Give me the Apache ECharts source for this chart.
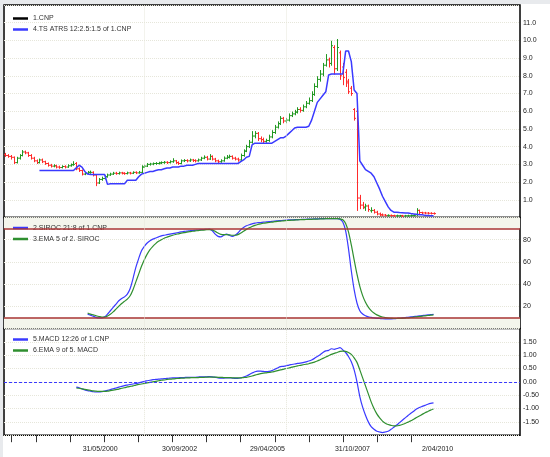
<!DOCTYPE html>
<html>
<head>
<meta charset="utf-8">
<script src="https://cdn.jsdelivr.net/npm/echarts@6/dist/echarts.min.js"></script>
<style>
html, body { margin: 0; padding: 0; background: #fff; }
#chart { width: 550px; height: 457px; }
</style>
</head>
<body>
<div id="chart"></div>
<script>
// monthly bars of 1.CNP, Sep 1997 .. Apr 2010 (index 0 .. 151)
var barOpen = [
    3.55, 3.50, 3.45, 3.40, 3.10, 3.35, 3.50, 3.70, 3.65, 3.50,
    3.35, 3.20, 3.10, 3.25, 3.15, 3.05, 2.95, 2.90, 2.92, 2.85,
    2.82, 2.88, 2.85, 2.92, 2.98, 3.05, 2.75, 2.65, 2.45, 2.50,
    2.55, 2.55, 2.40, 1.95, 2.15, 2.20, 2.30, 2.40, 2.45, 2.50,
    2.48, 2.52, 2.50, 2.48, 2.52, 2.50, 2.55, 2.52, 2.55, 2.85,
    2.90, 3.00, 3.02, 3.05, 3.05, 3.08, 3.10, 3.12, 3.10, 3.15,
    3.20, 3.10, 3.05, 3.20, 3.22, 3.20, 3.25, 3.22, 3.20, 3.25,
    3.35, 3.40, 3.30, 3.45, 3.30, 3.20, 3.15, 3.20, 3.35, 3.40,
    3.45, 3.35, 3.30, 3.25, 3.50, 3.75, 4.00, 4.25, 4.60, 4.75,
    4.45, 4.40, 4.30, 4.35, 4.55, 4.80, 5.10, 5.30, 5.60, 5.45,
    5.50, 5.75, 5.85, 5.95, 6.10, 6.05, 6.25, 6.45, 6.60, 6.95,
    7.40, 7.80, 8.10, 8.60, 8.90, 8.70, 9.60, 8.40, 9.30, 8.50,
    8.20, 7.70, 7.30, 6.10, 6.00, 1.10, 0.70, 0.55, 0.65, 0.38,
    0.40, 0.30, 0.20, 0.15, 0.14, 0.12, 0.12, 0.11, 0.10, 0.10,
    0.10, 0.09, 0.10, 0.10, 0.11, 0.15, 0.40, 0.28, 0.26, 0.25,
    0.24, 0.23
];
var barHigh = [
    3.62, 3.55, 3.50, 3.42, 3.40, 3.55, 3.78, 3.75, 3.68, 3.55,
    3.40, 3.25, 3.30, 3.30, 3.18, 3.08, 3.00, 2.98, 2.95, 2.90,
    2.92, 2.92, 2.98, 3.02, 3.15, 3.10, 2.80, 2.68, 2.55, 2.60,
    2.62, 2.58, 2.42, 2.20, 2.28, 2.35, 2.45, 2.50, 2.55, 2.55,
    2.56, 2.55, 2.53, 2.56, 2.55, 2.58, 2.58, 2.60, 2.92, 2.95,
    3.05, 3.06, 3.08, 3.10, 3.12, 3.14, 3.16, 3.15, 3.20, 3.32,
    3.22, 3.14, 3.25, 3.27, 3.26, 3.30, 3.28, 3.26, 3.30, 3.40,
    3.48, 3.45, 3.55, 3.48, 3.34, 3.24, 3.26, 3.42, 3.50, 3.52,
    3.48, 3.40, 3.35, 3.58, 3.82, 4.08, 4.35, 4.85, 4.85, 4.80,
    4.55, 4.48, 4.42, 4.65, 4.90, 5.20, 5.40, 5.70, 5.65, 5.60,
    5.85, 5.95, 6.05, 6.20, 6.20, 6.35, 6.55, 6.75, 7.10, 7.55,
    7.95, 8.30, 8.70, 9.20, 9.00, 9.95, 9.70, 10.05, 9.40, 8.70,
    8.35, 7.80, 7.40, 6.15, 6.05, 1.25, 0.85, 0.75, 0.70, 0.55,
    0.45, 0.35, 0.25, 0.20, 0.17, 0.15, 0.14, 0.13, 0.13, 0.12,
    0.12, 0.12, 0.13, 0.14, 0.15, 0.50, 0.42, 0.30, 0.29, 0.28,
    0.27, 0.26
];
var barLow = [
    3.45, 3.40, 3.30, 3.05, 3.08, 3.30, 3.48, 3.60, 3.45, 3.30,
    3.15, 3.05, 3.08, 3.10, 3.00, 2.90, 2.85, 2.86, 2.80, 2.78,
    2.80, 2.80, 2.83, 2.90, 2.95, 2.70, 2.60, 2.40, 2.42, 2.47,
    2.50, 2.35, 1.80, 1.92, 2.10, 2.18, 2.28, 2.38, 2.43, 2.44,
    2.45, 2.46, 2.44, 2.46, 2.46, 2.48, 2.48, 2.50, 2.53, 2.82,
    2.88, 2.96, 2.98, 3.00, 3.02, 3.04, 3.06, 3.05, 3.08, 3.12,
    3.05, 3.00, 3.03, 3.16, 3.14, 3.17, 3.16, 3.14, 3.18, 3.22,
    3.32, 3.25, 3.28, 3.25, 3.15, 3.10, 3.12, 3.18, 3.32, 3.36,
    3.30, 3.25, 3.18, 3.22, 3.46, 3.72, 3.95, 4.20, 4.50, 4.35,
    4.28, 4.22, 4.25, 4.30, 4.50, 4.75, 5.05, 5.25, 5.35, 5.35,
    5.45, 5.70, 5.80, 5.90, 5.95, 6.00, 6.20, 6.40, 6.55, 6.90,
    7.35, 7.70, 8.00, 8.55, 8.50, 8.60, 8.10, 8.30, 7.80, 7.50,
    7.40, 7.00, 6.90, 5.50, 0.40, 0.50, 0.50, 0.40, 0.35, 0.30,
    0.25, 0.15, 0.10, 0.10, 0.09, 0.08, 0.08, 0.07, 0.07, 0.07,
    0.06, 0.07, 0.07, 0.08, 0.09, 0.12, 0.22, 0.22, 0.21, 0.20,
    0.20, 0.19
];
var barClose = [
    3.50, 3.45, 3.40, 3.10, 3.35, 3.50, 3.70, 3.65, 3.50, 3.35,
    3.20, 3.10, 3.25, 3.15, 3.05, 2.95, 2.90, 2.92, 2.85, 2.82,
    2.88, 2.85, 2.92, 2.98, 3.00, 2.75, 2.65, 2.45, 2.50, 2.55,
    2.55, 2.40, 1.95, 2.15, 2.20, 2.30, 2.40, 2.45, 2.50, 2.48,
    2.52, 2.50, 2.48, 2.52, 2.50, 2.55, 2.52, 2.55, 2.85, 2.90,
    3.00, 3.02, 3.05, 3.05, 3.08, 3.10, 3.12, 3.10, 3.15, 3.20,
    3.10, 3.05, 3.20, 3.22, 3.20, 3.25, 3.22, 3.20, 3.25, 3.35,
    3.40, 3.30, 3.45, 3.30, 3.20, 3.15, 3.20, 3.35, 3.40, 3.45,
    3.35, 3.30, 3.25, 3.50, 3.75, 4.00, 4.25, 4.60, 4.75, 4.45,
    4.40, 4.30, 4.35, 4.55, 4.80, 5.10, 5.30, 5.60, 5.45, 5.50,
    5.75, 5.85, 5.95, 6.10, 6.05, 6.25, 6.45, 6.60, 6.95, 7.40,
    7.80, 8.10, 8.60, 8.90, 8.70, 9.70, 8.40, 9.60, 8.00, 7.90,
    7.60, 7.10, 7.00, 5.60, 1.10, 0.70, 0.60, 0.65, 0.45, 0.40,
    0.30, 0.20, 0.15, 0.14, 0.12, 0.12, 0.11, 0.10, 0.10, 0.10,
    0.09, 0.10, 0.10, 0.11, 0.12, 0.40, 0.28, 0.26, 0.25, 0.24,
    0.23, 0.22
];

// 4.TS ATRS 12:2.5:1.5, from bar 12
var atrsStart = 12;
var atrsValues = [
    2.65, 2.65, 2.65, 2.65, 2.65, 2.65, 2.65, 2.65, 2.65, 2.65, 2.65, 2.65, 2.65,
    2.80, 2.95, 2.85, 2.60, 2.45,
    2.43, 2.43, 2.43, 2.43, 2.43, 2.43,
    1.87, 1.90, 1.90, 1.90, 1.90, 1.90, 1.90,
    2.10, 2.10, 2.10, 2.10,
    2.30, 2.45, 2.50, 2.55, 2.60, 2.60,
    2.65, 2.70, 2.70, 2.75, 2.80, 2.80,
    2.85, 2.85, 2.85, 2.90, 2.90, 2.95, 2.95, 2.95, 3.00,
    3.05, 3.05, 3.05, 3.05, 3.05, 3.05, 3.05, 3.05, 3.05, 3.05, 3.05, 3.05, 3.05, 3.05, 3.05,
    3.15, 3.25, 3.40, 3.45, 4.10,
    4.20, 4.20, 4.20, 4.20, 4.20, 4.20, 4.20,
    4.30, 4.40, 4.50, 4.50, 4.60, 4.75, 4.90, 5.05,
    5.10, 5.10, 5.10, 5.10,
    5.15, 5.50, 6.00, 6.50, 6.70, 6.90, 7.10, 8.05,
    8.10, 8.10, 8.10, 8.10, 8.10,
    9.40, 9.40, 8.80, 7.20, 7.00,
    3.20, 2.95, 2.70, 2.60, 2.50, 2.30, 1.95, 1.60, 1.20, 0.90, 0.60, 0.40,
    0.30, 0.30, 0.28, 0.27, 0.25, 0.25, 0.22,
    0.20, 0.18, 0.15, 0.15, 0.12, 0.12, 0.10, 0.10
];

// 2.SIROC 21:8 and 3.EMA 5 of it, from bar 29
var sirocStart = 29;
var sirocValues = [
    13, 12, 11, 10, 9.5, 9.5, 10.5, 13, 16, 19,
    22, 25, 27, 28.5, 31, 36, 45, 55, 63, 70,
    74, 77, 79, 80.5, 81.5, 82.5, 83.5, 84, 84.5, 85,
    85.5, 86, 86.5, 87, 87.5, 87.7, 88, 88.3, 88.5, 88.7,
    89, 89.2, 89.3, 89.5, 88, 85, 83, 82.5, 84, 85,
    84, 83, 84, 86, 89, 91, 92.5, 93.5, 94.3, 95,
    95.3, 95.5, 95.8, 96, 96.2, 96.5, 96.8, 97, 97.2, 97.4,
    97.6, 97.8, 97.9, 98, 98.1, 98.2, 98.3, 98.4, 98.5, 98.6,
    98.7, 98.8, 98.9, 99, 99, 99, 99, 99, 99, 98.5,
    96, 88, 72, 52, 35, 23, 16, 13, 11.5, 10.5,
    10, 9.5, 9.2, 9, 8.8, 8.7, 8.7, 8.7, 8.8, 9,
    9.2, 9.5, 9.8, 10.1, 10.4, 10.7, 11, 11.3, 11.6, 11.9,
    12.2, 12.5, 12.8
];
var sirocEmaValues = [
    14, 13, 12.3, 11.5, 10.8, 10.3, 10.3, 11.2, 12.8, 15,
    17.5, 20, 22.5, 24.5, 26.5, 29.5, 35, 42, 49, 56,
    62, 67, 71, 74, 76.5, 78.5, 80, 81.3, 82.3, 83.2,
    84, 84.7, 85.3, 85.9, 86.4, 86.8, 87.2, 87.6, 87.9, 88.2,
    88.5, 88.7, 89, 89.1, 88.8, 87.5, 86, 84.8, 84.5, 84.6,
    84.4, 84, 84, 84.6, 86, 87.7, 89.3, 90.7, 91.9, 92.9,
    93.7, 94.3, 94.8, 95.2, 95.5, 95.9, 96.2, 96.5, 96.7, 97,
    97.2, 97.4, 97.6, 97.7, 97.9, 98, 98.1, 98.2, 98.3, 98.4,
    98.5, 98.6, 98.7, 98.8, 98.9, 98.9, 99, 99, 99, 98.8,
    97.9, 94.6, 87, 75.3, 61.9, 48.9, 38, 29.6, 23.6, 19.2,
    16.1, 13.9, 12.3, 11.2, 10.4, 9.8, 9.4, 9.2, 9, 9,
    9.1, 9.2, 9.4, 9.6, 9.9, 10.2, 10.5, 10.8, 11.1, 11.4,
    11.7, 12, 12.3
];

// 5.MACD 12:26 and 6.EMA 9 of it, from bar 25
var macdStart = 25;
var macdValues = [
    -0.20, -0.22, -0.26, -0.30, -0.33, -0.35, -0.37, -0.38, -0.38, -0.37,
    -0.35, -0.32, -0.29, -0.26, -0.23, -0.20, -0.17, -0.14, -0.12, -0.10,
    -0.08, -0.06, -0.04, -0.01, 0.02, 0.04, 0.06, 0.08, 0.09, 0.10,
    0.11, 0.12, 0.13, 0.14, 0.15, 0.15, 0.15, 0.16, 0.16, 0.17,
    0.17, 0.17, 0.17, 0.18, 0.19, 0.19, 0.19, 0.20, 0.19, 0.17,
    0.15, 0.14, 0.14, 0.15, 0.15, 0.14, 0.13, 0.13, 0.15, 0.18,
    0.22, 0.27, 0.33, 0.38, 0.40, 0.40, 0.39, 0.38, 0.39, 0.42,
    0.47, 0.52, 0.57, 0.58, 0.60, 0.63, 0.65, 0.67, 0.69, 0.70,
    0.72, 0.75, 0.78, 0.82, 0.88, 0.95, 1.02, 1.10, 1.16, 1.18,
    1.24, 1.22, 1.25, 1.28, 1.20, 1.10, 0.95, 0.75, 0.45, 0.00,
    -0.55, -0.95, -1.25, -1.50, -1.68, -1.78, -1.85, -1.88, -1.90, -1.88,
    -1.85, -1.78, -1.70, -1.62, -1.53, -1.44, -1.35, -1.26, -1.18, -1.10,
    -1.02, -0.96, -0.92, -0.88, -0.84, -0.81, -0.79
];
var macdSignalValues = [
    -0.23, -0.24, -0.26, -0.28, -0.30, -0.32, -0.34, -0.35, -0.36, -0.36,
    -0.36, -0.35, -0.33, -0.31, -0.29, -0.27, -0.24, -0.22, -0.19, -0.17,
    -0.15, -0.12, -0.10, -0.08, -0.06, -0.04, -0.02, 0.00, 0.02, 0.04,
    0.06, 0.07, 0.09, 0.10, 0.11, 0.12, 0.13, 0.14, 0.14, 0.15,
    0.15, 0.16, 0.16, 0.16, 0.17, 0.17, 0.18, 0.18, 0.18, 0.18,
    0.17, 0.17, 0.16, 0.16, 0.16, 0.15, 0.15, 0.15, 0.15, 0.16,
    0.17, 0.19, 0.22, 0.25, 0.28, 0.31, 0.33, 0.34, 0.35, 0.37,
    0.39, 0.42, 0.45, 0.47, 0.50, 0.52, 0.55, 0.57, 0.60, 0.62,
    0.64, 0.66, 0.68, 0.71, 0.74, 0.78, 0.83, 0.88, 0.93, 0.98,
    1.03, 1.07, 1.10, 1.14, 1.15, 1.14, 1.10, 1.03, 0.90, 0.73,
    0.45, 0.15, -0.15, -0.45, -0.75, -1.00, -1.20, -1.35, -1.47, -1.55,
    -1.60, -1.63, -1.65, -1.65, -1.63, -1.60, -1.56, -1.51, -1.46, -1.40,
    -1.34, -1.28, -1.22, -1.16, -1.11, -1.06, -1.02
];

// x axis: bar slots (the chart leaves empty room to the right of the last bar)
var slotCount = 182;
var dateLabels = ['31/05/2000', '30/09/2002', '29/04/2005', '31/10/2007', '2/04/2010'];
var dateLabelIdx = [32, 60, 91, 121, 151];
var tickIdx = [2, 11, 23, 35, 47, 59, 71, 83, 95, 107, 119, 131, 143];
var vGridIdx = [49, 99];

var seriesNames = [
    '1.CNP', '4.TS ATRS 12:2.5:1.5 of 1.CNP',
    '2.SIROC 21:8 of 1.CNP', '3.EMA 5 of 2. SIROC',
    '5.MACD 12:26 of 1.CNP', '6.EMA 9 of 5. MACD'
];

var cats = [];
for (var i = 0; i < slotCount; i++) cats.push(String(i));

function withLead(start, values) {
    var out = [];
    for (var k = 0; k < start; k++) out.push(null);
    return out.concat(values);
}

var ohlc = barClose.map(function(c, i) {
    return [i, barOpen[i], barHigh[i], barLow[i], c];
});

var BLUE = '#3a3aff';
var GREEN = '#2f8f2f';
var FONT = '"Liberation Sans", Arial, sans-serif';

function renderOhlc(params, api) {
    var i = api.value(0);
    var o = api.coord([i, api.value(1)]);
    var h = api.coord([i, api.value(2)]);
    var l = api.coord([i, api.value(3)]);
    var c = api.coord([i, api.value(4)]);
    var color = api.value(4) >= api.value(1) ? '#229922' : '#ff2b2b';
    var x = Math.round(o[0]) + 0.5;
    var st = {stroke: color, lineWidth: 1};
    return {
        type: 'group',
        children: [
            {type: 'line', shape: {x1: x, y1: h[1] - 0.5, x2: x, y2: l[1] + 0.5}, style: st},
            {type: 'line', shape: {x1: x - 1.5, y1: o[1], x2: x, y2: o[1]}, style: st},
            {type: 'line', shape: {x1: x, y1: c[1], x2: x + 1.5, y2: c[1]}, style: st}
        ]
    };
}

function vGrid() {
    return {
        silent: true, symbol: 'none', label: {show: false},
        lineStyle: {color: '#e6e6da', type: 'dotted', width: 1},
        data: vGridIdx.map(function(v) { return {xAxis: v}; })
    };
}

function makeGrid(top, height) {
    return {left: 4, right: 30, top: top, height: height, show: true,
        backgroundColor: '#fff', borderColor: '#000', borderWidth: 1.5};
}

function makeX(idx, showLabels) {
    return {
        type: 'category', gridIndex: idx, data: cats, boundaryGap: true,
        position: 'bottom',
        axisLine: {show: false, onZero: false},
        axisTick: showLabels ? {
            show: true, alignWithLabel: true, length: 7,
            interval: function(i) { return tickIdx.indexOf(i) >= 0; },
            lineStyle: {color: '#333', width: 1}
        } : {show: false},
        axisLabel: showLabels ? {
            show: true, fontSize: 7, fontFamily: FONT, color: '#222', margin: 10,
            padding: [0, 0, 0, 8],
            interval: function(i) { return dateLabelIdx.indexOf(i) >= 0; },
            formatter: function(v, i) {
                var k = dateLabelIdx.indexOf(i);
                return k >= 0 ? dateLabels[k] : '';
            }
        } : {show: false},
        splitLine: {show: false}
    };
}

function makeY(idx, min, max, interval, digits) {
    return {
        type: 'value', gridIndex: idx, position: 'right', min: min, max: max, interval: interval,
        axisLine: {show: false}, axisTick: {show: false},
        axisLabel: {
            fontSize: 7, fontFamily: FONT, color: '#222', margin: 3,
            showMinLabel: false, showMaxLabel: false,
            formatter: function(v) { return v.toFixed(digits); }
        },
        splitLine: {show: true, lineStyle: {color: '#e6e6da', type: 'dotted', width: 1}}
    };
}

function makeLegend(top, names) {
    return {
        top: top, left: 13, orient: 'vertical', padding: 0, itemGap: 0,
        icon: 'rect', itemWidth: 15, itemHeight: 2.5,
        textStyle: {fontSize: 7, fontFamily: FONT, color: '#333', lineHeight: 11},
        data: names
    };
}

var option = {
    animation: false,
    backgroundColor: '#fff',
    graphic: [
        {type: 'rect', left: 0, top: 0, shape: {width: 550, height: 4}, style: {fill: '#e8eaed'}, silent: true},
        {type: 'rect', left: 0, top: 0, shape: {width: 3, height: 457}, style: {fill: '#e8eaed'}, silent: true}
    ],
    grid: [makeGrid(5, 212.5), makeGrid(217.5, 111), makeGrid(328.5, 106.7)],
    xAxis: [makeX(0, false), makeX(1, false), makeX(2, true)],
    yAxis: [makeY(0, 0, 12, 1, 1), makeY(1, 0, 100, 20, 0), makeY(2, -2, 2, 0.5, 2)],
    legend: [
        makeLegend(13, [seriesNames[0], seriesNames[1]]),
        makeLegend(222.5, [seriesNames[2], seriesNames[3]]),
        makeLegend(334, [seriesNames[4], seriesNames[5]])
    ],
    series: [
        {
            name: seriesNames[0], type: 'custom', xAxisIndex: 0, yAxisIndex: 0,
            itemStyle: {color: '#000'},
            renderItem: renderOhlc, encode: {x: 0, y: [1, 2, 3, 4]}, data: ohlc,
            markLine: vGrid()
        },
        {
            name: seriesNames[1], type: 'line', xAxisIndex: 0, yAxisIndex: 0,
            data: withLead(atrsStart, atrsValues), showSymbol: false, symbol: 'none',
            color: BLUE, lineStyle: {color: BLUE, width: 1.5}, z: 3
        },
        {
            name: seriesNames[2], type: 'line', xAxisIndex: 1, yAxisIndex: 1,
            data: withLead(sirocStart, sirocValues), symbol: 'none', smooth: 0.3,
            color: BLUE, lineStyle: {color: BLUE, width: 1.2}, z: 3,
            markLine: {
                silent: true, symbol: 'none', label: {show: false},
                lineStyle: {color: '#a83434', type: 'solid', width: 1.5},
                data: [{yAxis: 90}, {yAxis: 10}]
            },
            markArea: {
                silent: true, itemStyle: {color: '#f4f5ec'},
                data: [[{yAxis: 90}, {yAxis: 100}], [{yAxis: 0}, {yAxis: 10}]]
            }
        },
        {
            name: seriesNames[3], type: 'line', xAxisIndex: 1, yAxisIndex: 1,
            data: withLead(sirocStart, sirocEmaValues), symbol: 'none', smooth: 0.3,
            color: GREEN, lineStyle: {color: GREEN, width: 1.2}, z: 3,
            markLine: vGrid()
        },
        {
            name: seriesNames[4], type: 'line', xAxisIndex: 2, yAxisIndex: 2,
            data: withLead(macdStart, macdValues), symbol: 'none', smooth: 0.3,
            color: BLUE, lineStyle: {color: BLUE, width: 1.2}, z: 3,
            markLine: {
                silent: true, symbol: 'none', label: {show: false},
                lineStyle: {color: '#3a3aff', type: [3, 2], width: 1},
                data: [{yAxis: 0}]
            }
        },
        {
            name: seriesNames[5], type: 'line', xAxisIndex: 2, yAxisIndex: 2,
            data: withLead(macdStart, macdSignalValues), symbol: 'none', smooth: 0.3,
            color: GREEN, lineStyle: {color: GREEN, width: 1.2}, z: 3,
            markLine: vGrid()
        }
    ]
};

var chart = echarts.init(document.getElementById('chart'));
chart.setOption(option);
</script>
</body>
</html>
